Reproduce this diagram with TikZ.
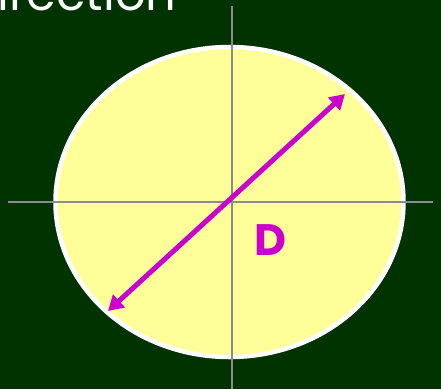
\documentclass[tikz,border=0pt]{standalone}
\usepackage{fontspec}
\setmainfont{Poppins}
\usetikzlibrary{arrows.meta}
\definecolor{bg}{HTML}{003300}
\definecolor{fillY}{HTML}{FFFF99}
\definecolor{mag}{HTML}{CC00CC}
\definecolor{axisG}{HTML}{8C8C8C}
\tikzset{
  axisline/.style={draw=axisG, line width=1.6pt},
  diam/.style={draw=mag, line width=5pt, {Triangle[length=15pt,width=17pt]}-{Triangle[length=15pt,width=17pt]}},
}
\begin{document}
\begin{tikzpicture}[x=1pt,y=-1pt]
\path[use as bounding box, fill=bg] (0,0) rectangle (441,389);
\clip (0,0) rectangle (441,389);
\node[anchor=base west, inner sep=0, text=white, font=\fontsize{48}{48}\selectfont] (title) at (-3,10) {irection};
\draw[fill=fillY, draw=white, line width=4.5pt] (229.5,202) ellipse [x radius=174, y radius=155];
\coordinate (hl) at (8,202);
\coordinate (hr) at (433,202);
\coordinate (vt) at (232,6);
\coordinate (vb) at (232,389);
\draw[axisline] (hl) -- (hr);
\draw[axisline] (vt) -- (vb);
\coordinate (a1) at (108,311);
\coordinate (a2) at (345,94);
\draw[diam] (a1) -- (a2);
\node[text=mag, font=\fontsize{44}{44}\selectfont\bfseries] (D) at (270,240) {D};
\end{tikzpicture}
\end{document}
